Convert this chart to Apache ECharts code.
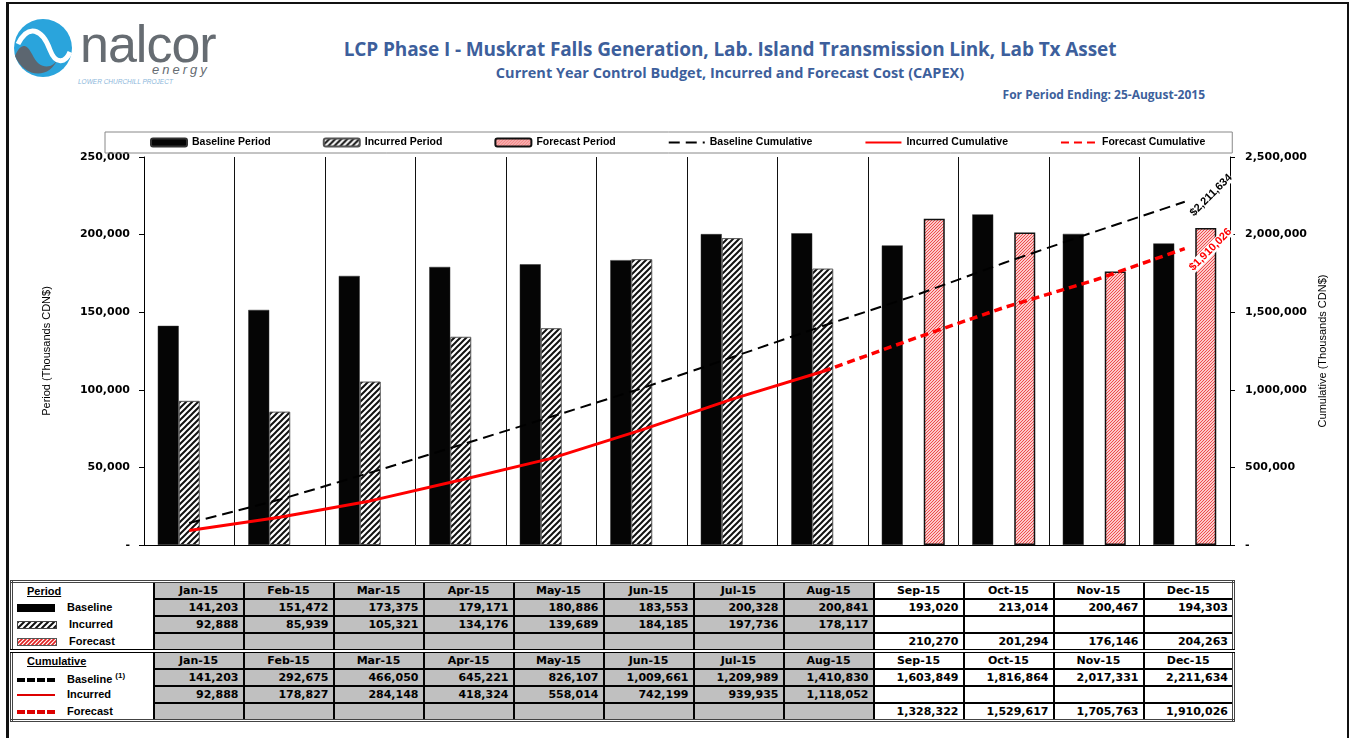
<!DOCTYPE html>
<html lang="en">
<head>
    <meta charset="UTF-8">
    <title>LCP Phase I CAPEX</title>
    <script src="https://cdn.jsdelivr.net/npm/echarts@6/dist/echarts.min.js"></script>
    <style>
        body { margin: 0; background: #fff; font-family: "Open Sans", "Liberation Sans", sans-serif; }
        #page { position: relative; width: 1351px; height: 738px; overflow: hidden; }
        #frame { position: absolute; left: 6px; top: 2px; width: 1338px; height: 760px; border: 2px solid #111; border-left-width: 3px; }
        .title { position: absolute; left: 0; width: 1460px; text-align: center; color: #3d5f9c; font-weight: bold; }
        #t1 { top: 36px; font-size: 19px; letter-spacing: -0.1px; }
        #t2 { top: 63px; font-size: 14.5px; }
        #t3 { position: absolute; right: 146px; top: 86px; font-size: 12px; font-weight: bold; color: #3d5f9c; }
        #demo { position: absolute; left: 0; top: 120px; width: 1351px; height: 450px; }
        #tbl { position: absolute; left: 10px; top: 580px; width: 1222px; table-layout: fixed; border-collapse: collapse; border: 3px double #444;
               font-family: "DejaVu Sans", sans-serif; font-size: 11px; font-weight: bold; }
        #tbl td { height: 15px; padding: 0 4px; border: 2px solid #000; line-height: 13px; white-space: nowrap; overflow: hidden; }
        #tbl td.lab { border: none; padding: 0 0 0 4px; font-family: "Liberation Sans", sans-serif; font-size: 11px; }
        #tbl td.g { background: #c0c0c0; }
        #tbl td.h { text-align: center; }
        #tbl td.n { text-align: right; }
        #tbl tr.sep td { border-top: 4px double #000; }
        #tbl td.lab u { margin-left: 10px; }
        .ic { display: inline-block; width: 38px; height: 8px; margin-right: 12px; vertical-align: middle; }
    </style>
</head>
<body>
<div id="page">
    <div id="frame"></div>
    <svg style="position:absolute;left:10px;top:18px" width="210" height="66">
        <circle cx="33" cy="30" r="29" fill="#2aa4dc"/>
        <path d="M5 38 C 14 60, 40 62, 48 40 C 44 50, 30 54, 22 36 C 16 24, 10 26, 5 38 Z" fill="#5c6670"/>
        <path d="M8 26 C 18 6, 32 10, 40 32 C 46 48, 56 44, 60 34" stroke="#fff" stroke-width="5" fill="none"/>
        <text x="70" y="44" font-family="Liberation Sans" font-size="52" fill="#666c72" letter-spacing="-1">nalcor</text>
        <text x="142" y="56" font-family="Liberation Sans" font-style="italic" font-size="13" fill="#666c72" letter-spacing="3">energy</text>
        <text x="68" y="66" font-family="Liberation Sans" font-style="italic" font-size="6.5" fill="#8ab6da">LOWER CHURCHILL PROJECT</text>
    </svg>
    <div class="title" id="t1">LCP Phase I - Muskrat Falls Generation, Lab. Island Transmission Link, Lab Tx Asset</div>
    <div class="title" id="t2">Current Year Control Budget, Incurred and Forecast Cost (CAPEX)</div>
    <div id="t3">For Period Ending: 25-August-2015</div>
    <div id="demo"></div>
    <table id="tbl"></table>
</div>
<script>
    var months = ['Jan-15','Feb-15','Mar-15','Apr-15','May-15','Jun-15','Jul-15','Aug-15','Sep-15','Oct-15','Nov-15','Dec-15'];
    var baselinePeriod = [141203,151472,173375,179171,180886,183553,200328,200841,193020,213014,200467,194303];
    var incurredPeriod = [92888,85939,105321,134176,139689,184185,197736,178117,null,null,null,null];
    var forecastPeriod = [null,null,null,null,null,null,null,null,210270,201294,176146,204263];
    var baselineCum = [141203,292675,466050,645221,826107,1009661,1209989,1410830,1603849,1816864,2017331,2211634];
    var incurredCum = [92888,178827,284148,418324,558014,742199,939935,1118052,null,null,null,null];
    var forecastCum = [null,null,null,null,null,null,null,1118052,1328322,1529617,1705763,1910026];
    var actualMonths = 8;

    function fmt(v) {
        return v.toString().replace(/\B(?=(\d{3})+(?!\d))/g, ',');
    }

    // hatch fills
    function hatch(size, bg, fg, lw) {
        var c = document.createElement('canvas');
        c.width = size; c.height = size;
        var g = c.getContext('2d');
        g.fillStyle = bg; g.fillRect(0, 0, size, size);
        g.strokeStyle = fg; g.lineWidth = lw;
        g.beginPath();
        g.moveTo(-size / 2, size / 2); g.lineTo(size / 2, -size / 2);
        g.moveTo(0, size); g.lineTo(size, 0);
        g.moveTo(size / 2, size * 1.5); g.lineTo(size * 1.5, size / 2);
        g.stroke();
        return c;
    }
    var incHatch = hatch(6, '#ffffff', '#111111', 2);
    var fcHatch = hatch(3, '#fbcaca', '#ee4c4c', 1);

    // table below the chart
    var icons = {
        base: 'background:#000;',
        inc: 'background:url(' + incHatch.toDataURL() + ');border:1px solid #444;height:6px;',
        fc: 'background:url(' + hatch(4, '#ffffff', '#e02020', 1.6).toDataURL() + ');border:1px solid #555;height:6px;',
        bcum: 'height:0;border-top:4px dashed #000;',
        icum: 'height:0;border-top:2px solid #d00;',
        fcum: 'height:0;border-top:4px dashed #d00;'
    };
    function row(label, icon, arr, isHead, cls) {
        var h = '<tr' + (cls ? ' class="' + cls + '"' : '') + '><td class="lab">';
        if (isHead) h += '<u>' + label + '</u>';
        else h += '<span class="ic" style="' + icons[icon] + '"></span>' + label;
        h += '</td>';
        for (var i = 0; i < months.length; i++) {
            var v = arr[i];
            var txt = isHead ? v : (v == null ? '' : fmt(v));
            h += '<td class="' + (i < actualMonths ? 'g ' : '') + (isHead ? 'h' : 'n') + '">' + txt + '</td>';
        }
        return h + '</tr>';
    }
    var fcCumTable = forecastCum.map(function (v, i) { return i < actualMonths ? null : v; });
    var cols = '<colgroup><col style="width:142px">' + months.map(function () { return '<col style="width:90px">'; }).join('') + '</colgroup>';
    document.getElementById('tbl').innerHTML = cols +
        row('Period', null, months, true) +
        row('Baseline', 'base', baselinePeriod) +
        row('Incurred', 'inc', incurredPeriod) +
        row('Forecast', 'fc', forecastPeriod) +
        row('Cumulative', null, months, true, 'sep') +
        row('Baseline <sup style="font-size:8px">(1)</sup>', 'bcum', baselineCum) +
        row('Incurred', 'icum', incurredCum) +
        row('Forecast', 'fcum', fcCumTable);

    var myChart = echarts.init(document.getElementById('demo'));
    var lblFont = { fontFamily: 'DejaVu Sans', fontWeight: 'bold', fontSize: 11, color: '#000' };
    var option = {
        animation: false,
        textStyle: { fontFamily: 'Liberation Sans' },
        legend: {
            left: 105,
            top: 12,
            padding: [5, 27, 5, 45],
            borderColor: '#888',
            borderWidth: 1,
            itemWidth: 36,
            itemHeight: 8,
            itemGap: 52,
            textStyle: { fontFamily: 'Liberation Sans', fontWeight: 'bold', fontSize: 10.5, color: '#000' },
            data: [
                'Baseline Period', 'Incurred Period', 'Forecast Period',
                { name: 'Baseline Cumulative', itemStyle: { opacity: 0 } },
                { name: 'Incurred Cumulative', itemStyle: { opacity: 0 } },
                { name: 'Forecast Cumulative', itemStyle: { opacity: 0 } }
            ]
        },
        grid: { left: 144, right: 121, top: 37, bottom: 25 },
        xAxis: {
            type: 'category',
            data: months,
            axisLabel: { show: false },
            axisTick: { show: false },
            axisLine: { lineStyle: { color: '#000', width: 1 } },
            splitLine: { show: true, interval: 0, lineStyle: { color: '#111', width: 1 } }
        },
        yAxis: [
            {
                type: 'value', min: 0, max: 250000, interval: 50000,
                name: 'Period (Thousands CDN$)', nameLocation: 'middle', nameGap: 92,
                nameTextStyle: { fontFamily: 'Liberation Sans', fontSize: 11, color: '#000' },
                axisLine: { show: true, lineStyle: { color: '#000' } },
                axisTick: { show: true, length: 5, lineStyle: { color: '#000' } },
                splitLine: { show: false },
                axisLabel: Object.assign({ margin: 14, formatter: function (v) { return v === 0 ? '-' : fmt(v); } }, lblFont)
            },
            {
                type: 'value', min: 0, max: 2500000, interval: 500000,
                name: 'Cumulative (Thousands CDN$)', nameLocation: 'middle', nameGap: 74,
                nameRotate: 90,
                nameTextStyle: { fontFamily: 'Liberation Sans', fontSize: 11, color: '#000' },
                axisLine: { show: true, lineStyle: { color: '#000' } },
                axisTick: { show: true, length: 5, lineStyle: { color: '#000' } },
                splitLine: { show: false },
                axisLabel: Object.assign({ margin: 15, formatter: function (v) { return v === 0 ? '-' : fmt(v); } }, lblFont)
            }
        ],
        series: [
            {
                name: 'Baseline Period', type: 'bar', data: baselinePeriod,
                barWidth: 21, barGap: '0%',
                itemStyle: { color: '#050505', borderColor: '#333', borderWidth: 0.5 }
            },
            {
                name: 'Incurred Period', type: 'bar', data: incurredPeriod,
                barWidth: 21, barGap: '0%',
                itemStyle: { color: { image: incHatch, repeat: 'repeat' }, borderColor: '#555', borderWidth: 1 }
            },
            {
                name: 'Forecast Period', type: 'bar', data: forecastPeriod,
                barWidth: 21, barGap: '0%',
                itemStyle: { color: { image: fcHatch, repeat: 'repeat' }, borderColor: '#111', borderWidth: 1.5 }
            },
            {
                name: 'Baseline Cumulative', type: 'line', yAxisIndex: 1, data: baselineCum,
                symbol: 'none', z: 5,
                itemStyle: { color: '#000' },
                lineStyle: { color: '#000', width: 2, type: [11, 6] },
                markPoint: {
                    symbol: 'circle', symbolSize: 0,
                    data: [{ type: 'max' }],
                    label: {
                        show: true, position: 'right', distance: 0, offset: [-4, 14], rotate: 45,
                        align: 'left', verticalAlign: 'middle',
                        fontFamily: 'Liberation Sans', fontWeight: 'bold', fontSize: 11, color: '#000',
                        backgroundColor: '#fff',
                        formatter: function (p) { return '$' + fmt(p.value); }
                    }
                }
            },
            {
                name: 'Incurred Cumulative', type: 'line', yAxisIndex: 1, data: incurredCum,
                symbol: 'none', z: 5,
                itemStyle: { color: '#ff0000' },
                lineStyle: { color: '#ff0000', width: 3 }
            },
            {
                name: 'Forecast Cumulative', type: 'line', yAxisIndex: 1, data: forecastCum,
                symbol: 'none', z: 5,
                itemStyle: { color: '#ff0000' },
                lineStyle: { color: '#ff0000', width: 3.5, type: [8, 5] },
                markPoint: {
                    symbol: 'circle', symbolSize: 0,
                    data: [{ type: 'max' }],
                    label: {
                        show: true, position: 'right', distance: 0, offset: [-10, 19], rotate: 45,
                        align: 'left', verticalAlign: 'middle',
                        fontFamily: 'Liberation Sans', fontWeight: 'bold', fontSize: 11, color: '#ff0000',
                        backgroundColor: '#fff',
                        formatter: function (p) { return '$' + fmt(p.value); }
                    }
                }
            }
        ]
    };
    myChart.setOption(option);
    setTimeout(function () {
        window.onresize = function () {
            myChart.resize()
        }
    }, 200)
</script>
</body>
</html>
